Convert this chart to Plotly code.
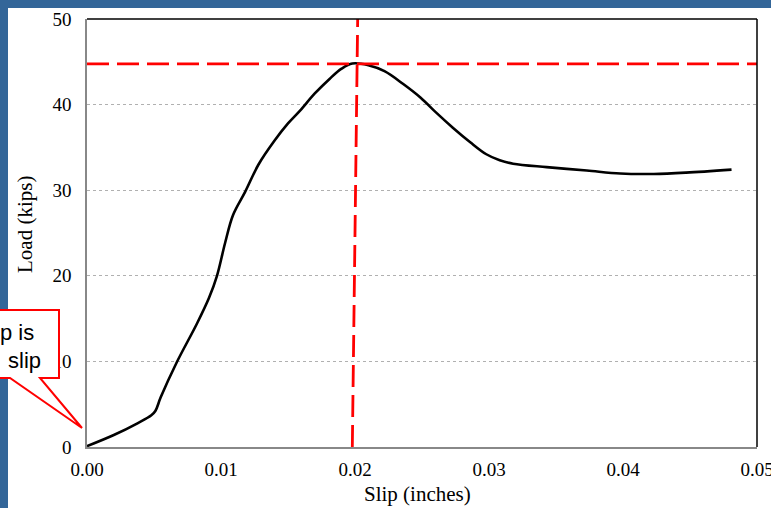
import plotly.graph_objects as go

# ---- data ----
slip = [0.0, 0.002, 0.0038, 0.0048, 0.0051, 0.0055, 0.0067, 0.0082, 0.0091, 0.0097,
        0.0103, 0.0109, 0.0118, 0.0128, 0.0140, 0.0150, 0.0159, 0.0170, 0.0181, 0.0190,
        0.0198, 0.0210, 0.0222, 0.0236, 0.0249, 0.0261, 0.0273, 0.0286, 0.0298, 0.0308,
        0.0318, 0.0343, 0.0373, 0.0398, 0.0423, 0.0447, 0.0481]
load = [0.1, 1.4, 2.8, 3.7, 4.2, 5.8, 9.9, 14.4, 17.4, 20.0,
        23.8, 27.1, 29.8, 33.0, 35.8, 37.8, 39.3, 41.3, 43.0, 44.2,
        44.8, 44.6, 43.9, 42.4, 40.8, 39.0, 37.3, 35.6, 34.2, 33.5,
        33.1, 32.7, 32.3, 31.95, 31.9, 32.05, 32.4]

peak_slip_bottom = 0.0198
peak_slip_top = 0.0202
peak_load = 44.75

x_ticks = [0.0, 0.01, 0.02, 0.03, 0.04, 0.05]
x_tick_labels = ["0.00", "0.01", "0.02", "0.03", "0.04", "0.05"]
y_ticks = [0, 10, 20, 30, 40, 50]

W, H = 771, 508
ML, MR, MT, MB = 87, 14, 19, 61
PW, PH = W - ML - MR, H - MT - MB


def px(x):
    return (x - ML) / PW


def py(y):
    return (H - MB - y) / PH


BLUE = "#336699"
SERIF = "Liberation Serif, Times New Roman, serif"
SANS = "Liberation Sans, Arial, sans-serif"

fig = go.Figure()
fig.add_trace(go.Scatter(x=slip, y=load, mode="lines",
                         line=dict(color="black", width=2.6, shape="spline", smoothing=1.0),
                         hoverinfo="skip", showlegend=False))
# red dashed peak lines
fig.add_trace(go.Scatter(x=[0.0, 0.05], y=[peak_load, peak_load], mode="lines",
                         line=dict(color="#ff0000", width=2.8, dash="22px,8px"),
                         showlegend=False, hoverinfo="skip"))
fig.add_trace(go.Scatter(x=[peak_slip_bottom, peak_slip_top], y=[0, 50], mode="lines",
                         line=dict(color="#ff0000", width=2.8, dash="22px,8px"),
                         showlegend=False, hoverinfo="skip"))

shapes = [
    # white slide area (paper background is the blue slide frame)
    dict(type="rect", xref="paper", yref="paper", x0=px(8), x1=px(W + 10), y0=py(H + 10), y1=py(8),
         fillcolor="white", line_width=0, layer="below"),
    # top blue band of the slide
    dict(type="rect", xref="paper", yref="paper", x0=px(-5), x1=px(W + 5), y0=py(8), y1=py(-5),
         fillcolor=BLUE, line_width=0, layer="above"),
    # black top/right border
    dict(type="line", xref="paper", yref="paper", x0=0, x1=1, y0=1, y1=1,
         line=dict(color="black", width=1.5)),
    dict(type="line", xref="paper", yref="paper", x0=1, x1=1, y0=0, y1=1,
         line=dict(color="black", width=1.5)),
]

# callout box with pointer
bx0, bx1, byt, byb = -20, 59, 310, 378
pa, pb = 10, 40
tipx, tipy = 82, 428
path = (f"M {px(bx0)},{py(byb)} L {px(pa)},{py(byb)} L {px(tipx)},{py(tipy)} "
        f"L {px(pb)},{py(byb)} L {px(bx1)},{py(byb)} L {px(bx1)},{py(byt)} "
        f"L {px(bx0)},{py(byt)} Z")
shapes.append(dict(type="path", xref="paper", yref="paper", path=path,
                   fillcolor="white", line=dict(color="#ff0000", width=2)))

annotations = [
    dict(xref="paper", yref="paper", x=px(36), y=py(332), text="p is", showarrow=False,
         xanchor="right", yanchor="middle", font=dict(family=SANS, size=22, color="black")),
    dict(xref="paper", yref="paper", x=px(43), y=py(360), text="slip", showarrow=False,
         xanchor="right", yanchor="middle", font=dict(family=SANS, size=22, color="black")),
    # axis titles
    dict(xref="paper", yref="paper", x=px(417), y=py(494), text="Slip (inches)", showarrow=False,
         xanchor="center", yanchor="middle", font=dict(family=SERIF, size=21, color="black")),
    dict(xref="paper", yref="paper", x=px(25), y=py(225), text="Load (kips)", showarrow=False,
         textangle=-90, xanchor="center", yanchor="middle",
         font=dict(family=SERIF, size=21, color="black")),
]

fig.update_layout(
    width=W, height=H,
    margin=dict(l=ML, r=MR, t=MT, b=MB, pad=0, autoexpand=False),
    paper_bgcolor=BLUE, plot_bgcolor="white",
    shapes=shapes, annotations=annotations,
    showlegend=False,
    xaxis=dict(range=[0, 0.05], tickvals=x_ticks, ticktext=x_tick_labels, automargin=False,
               showgrid=False, zeroline=False, showline=True, linecolor="#888888", linewidth=1.5,
               ticks="", ticklabelstandoff=4, ticklabeloverflow="allow",
               tickfont=dict(family=SERIF, size=19, color="black")),
    yaxis=dict(range=[0, 50], tickvals=y_ticks, automargin=False,
               showgrid=True, gridcolor="#b0b0b0", griddash="dot", gridwidth=1,
               zeroline=False, showline=True, linecolor="#888888", linewidth=1.5,
               ticks="", ticklabelstandoff=10, ticklabeloverflow="allow",
               tickfont=dict(family=SERIF, size=19, color="black")),
)

post = ("document.documentElement.style.background='" + BLUE + "';"
        "document.body.style.background='" + BLUE + "';"
        "document.body.style.margin='0';document.body.style.overflow='hidden';")
fig.write_html("out.html", config={"displayModeBar": False}, post_script=post)
